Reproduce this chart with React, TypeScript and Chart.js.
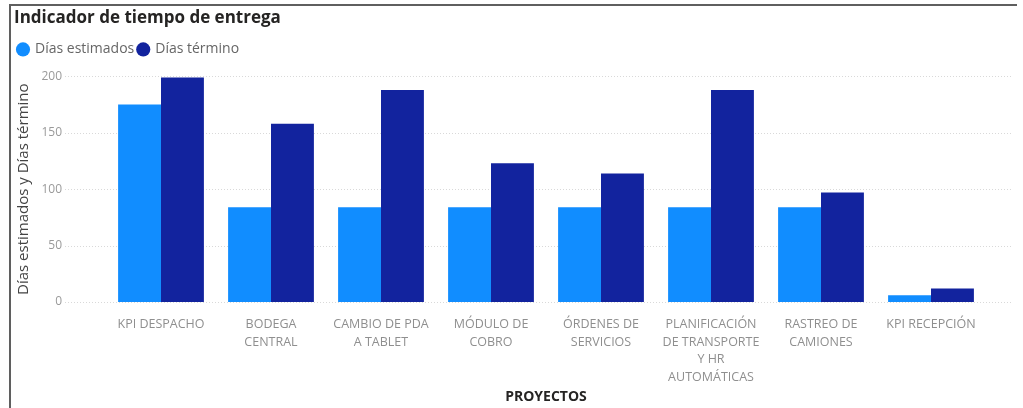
import React, { useEffect, useRef } from "react";
import { Chart, registerables } from "chart.js";

Chart.register(...registerables);

const categories: string[][] = [
  ["KPI DESPACHO"],
  ["BODEGA", "CENTRAL"],
  ["CAMBIO DE PDA", "A TABLET"],
  ["MÓDULO DE", "COBRO"],
  ["ÓRDENES DE", "SERVICIOS"],
  ["PLANIFICACIÓN", "DE TRANSPORTE", "Y HR", "AUTOMÁTICAS"],
  ["RASTREO DE", "CAMIONES"],
  ["KPI RECEPCIÓN"],
];
const diasEstimados = [175, 84, 84, 84, 84, 84, 84, 6];
const diasTermino = [199, 158, 188, 123, 114, 188, 97, 12];
const yTicks = [0, 50, 100, 150, 200];

const FONT = "'Open Sans', 'Noto Sans', sans-serif";

export default function App() {
  const ref = useRef<HTMLCanvasElement | null>(null);
  useEffect(() => {
    document.body.style.margin = "0";
    const gridPlugin = {
      id: "dottedGrid",
      beforeDatasetsDraw(chart: any) {
        const ctx = chart.ctx;
        const y = chart.scales.y;
        ctx.save();
        ctx.strokeStyle = "#d9d9d9";
        ctx.lineWidth = 1;
        ctx.setLineDash([1, 2]);
        yTicks.forEach((v) => {
          const py = Math.round(y.getPixelForValue(v)) + 0.5;
          ctx.beginPath();
          ctx.moveTo(65, py);
          ctx.lineTo(1013, py);
          ctx.stroke();
        });
        ctx.restore();
      },
    };
    const legendMargin = {
      id: "legendMargin",
      beforeInit(chart: any) {
        const orig = chart.legend.fit;
        chart.legend.fit = function () {
          orig.bind(chart.legend)();
          this.height += 10;
        };
      },
    };
    const chart = new Chart(ref.current as HTMLCanvasElement, {
      type: "bar",
      data: {
        labels: categories,
        datasets: [
          {
            label: "Días estimados",
            data: diasEstimados,
            backgroundColor: "#118DFF",
            borderWidth: 0,
          },
          {
            label: "Días término",
            data: diasTermino,
            backgroundColor: "#12239E",
            borderWidth: 0,
          },
        ],
      },
      options: {
        animation: false,
        responsive: false,
        maintainAspectRatio: false,
        devicePixelRatio: 1,
        layout: { padding: { left: 14, right: 37, top: 0, bottom: 2 } },
        datasets: { bar: { categoryPercentage: 0.78, barPercentage: 1.0 } },
        plugins: {
          tooltip: { enabled: false },
          title: {
            display: true,
            text: "Indicador de tiempo de entrega",
            align: "start",
            color: "#252423",
            font: { family: FONT, size: 17, weight: "bold" },
            padding: { top: 8, bottom: 10 },
          },
          legend: {
            display: true,
            position: "top",
            align: "start",
            labels: {
              usePointStyle: true,
              pointStyle: "circle",
              boxWidth: 10,
              boxHeight: 10,
              padding: 4,
              color: "#666666",
              font: { family: FONT, size: 14 },
            },
          },
        },
        scales: {
          x: {
            offset: true,
            grid: { display: false, drawTicks: false },
            border: { display: false },
            ticks: {
              autoSkip: false,
              maxRotation: 0,
              minRotation: 0,
              padding: 14,
              color: "#8f8f8f",
              font: { family: FONT, size: 12.5, lineHeight: 1.4 },
            },
            title: {
              display: true,
              text: "PROYECTOS",
              color: "#252423",
              font: { family: FONT, size: 14, weight: "bold" },
              padding: { top: 0, bottom: 1 },
            },
            afterFit(scale: any) {
              scale.height = 104;
            },
          },
          y: {
            min: 0,
            max: 200,
            grid: { display: false, drawTicks: false },
            border: { display: false },
            ticks: {
              stepSize: 50,
              padding: 44,
              color: "#9a9a9a",
              font: { family: FONT, size: 12 },
            },
            title: {
              display: true,
              text: "Días estimados y Días término",
              color: "#444444",
              font: { family: FONT, size: 15 },
              padding: { top: 1, bottom: 0 },
            },
            afterFit(scale: any) {
              scale.width = 92;
            },
          },
        },
      },
      plugins: [gridPlugin, legendMargin],
    });
    return () => chart.destroy();
  }, []);
  return (
    <div
      style={{
        position: "fixed",
        left: 0,
        top: 0,
        width: 1023,
        height: 408,
        background: "#ffffff",
        overflow: "hidden",
      }}
    >
      <canvas ref={ref} width={1023} height={408} style={{ position: "absolute", left: 0, top: 0 }} />
      <div
        style={{
          position: "absolute",
          left: 9,
          top: 4,
          width: 1006,
          height: 410,
          borderLeft: "2px solid #5f5f5f",
          borderTop: "2px solid #5f5f5f",
          pointerEvents: "none",
        }}
      />
    </div>
  );
}
